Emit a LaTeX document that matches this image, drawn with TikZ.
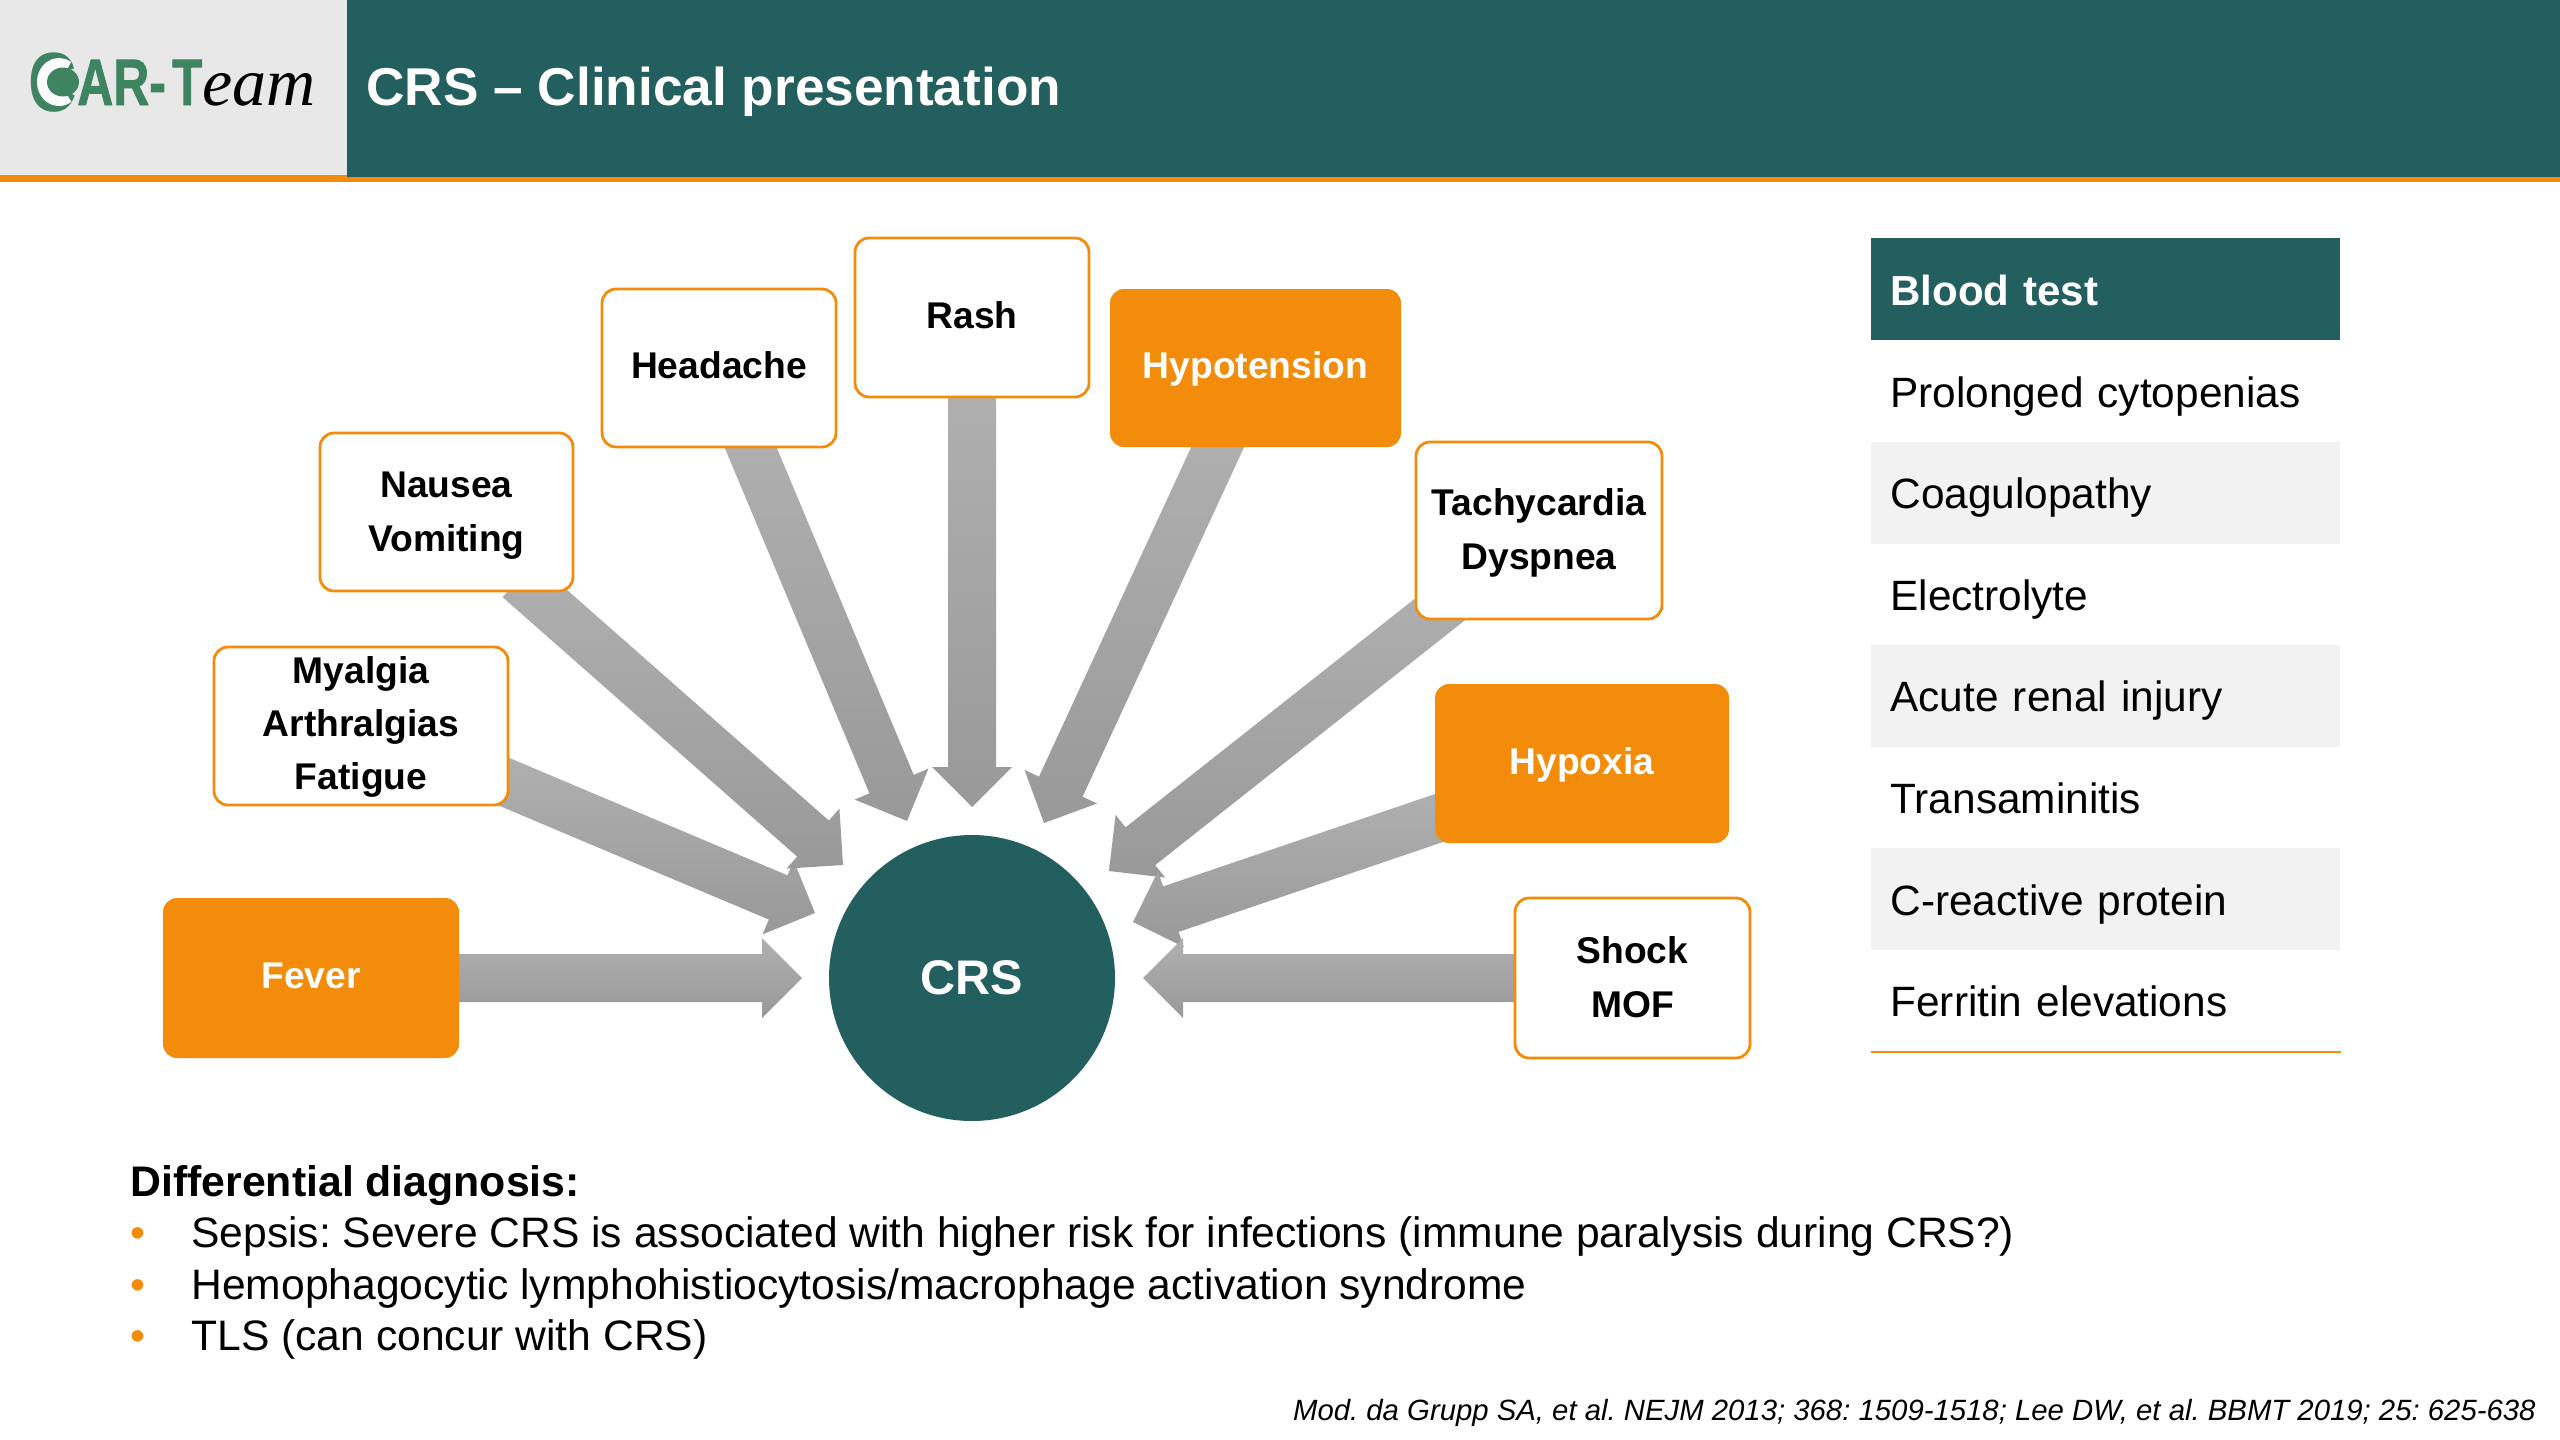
\documentclass[tikz,border=0pt]{standalone}
\usepackage{fontspec}
\setmainfont{Liberation Sans}
\newfontfamily\logoserif{Liberation Serif}
\newfontfamily\logosans[FakeBold=1.5]{Liberation Sans Bold}
\usetikzlibrary{calc,backgrounds}
\definecolor{teal1}{HTML}{245F60}
\definecolor{orange1}{HTML}{F28C0A}
\definecolor{logogreen}{HTML}{3F8460}
\newcommand\rowtxt[1]{\raisebox{-2.7pt}[0pt][0pt]{#1}\strut}
\newcommand\topstrut{\rule{0pt}{20.5pt}}
\tikzset{
  x=0.5pt,y=-0.5pt,
  solidbox/.style={draw=none,fill=orange1,rounded corners=7pt,text=white,font=\fontsize{18.6}{27}\bfseries\selectfont,align=center,inner sep=0pt},
  linebox/.style={draw=orange1,line width=1.4pt,fill=white,rounded corners=7pt,text=black,font=\fontsize{18.6}{27}\bfseries\selectfont,align=center,inner sep=0pt},
  fatarrowstyle/.style={top color=black!31,bottom color=black!40,draw=none},
  rowbox/.style={anchor=north west,minimum width=234.5pt,minimum height=50.8pt,text width=215.5pt,inner xsep=9.5pt,inner ysep=0pt,align=left,font=\fontsize{21.2}{26}\selectfont},
  bodytext/.style={anchor=base west,inner sep=0pt,font=\fontsize{21.3}{26}\selectfont},
  logotext/.style={anchor=base west,inner sep=0pt,text=logogreen,transform shape},
}
\newcommand\fatarrow[2]{%
  \coordinate (aB) at ($(#2)!20pt!(#1)$);
  \coordinate (aS) at ($(#1)!-10pt!(#2)$);
  \shade[fatarrowstyle]
    ($(aS)!12pt!90:(#2)$) -- ($(aB)!12pt!-90:(#1)$) -- ($(aB)!20pt!90:(#2)$)
    -- (#2) -- ($(aB)!20pt!-90:(#2)$) -- ($(aB)!12pt!90:(#1)$)
    -- ($(aS)!12pt!-90:(#2)$) -- cycle;
}
\begin{document}
\frenchspacing
\begin{tikzpicture}
\useasboundingbox (0,0) rectangle (2560,1440);
% header
\fill[teal1] (0,0) rectangle (2560,178);
\fill[black!9] (0,0) rectangle (347,175);
\fill[orange1] (0,175) rectangle (347,182);
\fill[orange1] (347,177) rectangle (2560,182);
\node[anchor=base west,inner sep=0pt,text=white,font=\fontsize{26.6}{32}\bfseries\selectfont] (title) at (366,105) {CRS – Clinical presentation};
% logo
\node[logotext,xscale=.8,font=\fontsize{42}{46}\bfseries\selectfont] (logoc) at (28,111) {C};
\draw[white,line width=5.5pt] ($(59,82)+(55:16.5 and 18.5)$) arc[start angle=55,end angle=305,x radius=16.5,y radius=18.5];
\fill[logogreen] (63,82) ellipse[x radius=16,y radius=14.5];
\node[logotext,xscale=.76,font=\logosans\fontsize{32.8}{36}\selectfont] (logoa) at (77,105) {AR-};
\node[logotext,xscale=.75,font=\logosans\fontsize{32.8}{36}\selectfont] (logot) at (172,105) {T};
\node[logotext,text=black,font=\logoserif\fontsize{34}{36}\itshape\selectfont] (logoe) at (202,105) {eam};
% nodes
\node[solidbox,minimum width=148pt,minimum height=80pt] (fever) at (311,978) {\strut Fever};
\node[linebox,minimum width=147pt,minimum height=79pt,font=\fontsize{18.6}{26.5}\bfseries\selectfont] (myalgia) at (361,726) {\rule{0pt}{17.5pt}Myalgia\\Arthralgias\\\rule[-7.5pt]{0pt}{7.5pt}Fatigue};
\node[linebox,minimum width=126.5pt,minimum height=79pt] (nausea) at (446.5,512) {\topstrut Nausea\\\strut Vomiting};
\node[linebox,minimum width=117pt,minimum height=79pt] (headache) at (719,368) {\strut Headache};
\node[linebox,minimum width=117pt,minimum height=79.5pt] (rash) at (972,317.5) {\strut Rash};
\node[solidbox,minimum width=145.5pt,minimum height=79pt] (hypotension) at (1255.5,368) {\strut Hypotension};
\node[linebox,minimum width=123pt,minimum height=88.5pt] (tachy) at (1539,530.5) {\topstrut Tachycardia\\\strut Dyspnea};
\node[solidbox,minimum width=147pt,minimum height=79.5pt] (hypoxia) at (1582,763.5) {\strut Hypoxia};
\node[linebox,minimum width=117.5pt,minimum height=80pt] (shock) at (1632.5,978) {\topstrut Shock\\\strut MOF};
\node[circle,fill=teal1,text=white,minimum size=143pt,inner sep=0pt,font=\fontsize{24.3}{28}\bfseries\selectfont] (crs) at (972,978) {CRS};
% arrows
\begin{pgfonlayer}{background}
\fill[white] (0,0) rectangle (2560,1440);
\coordinate (sfever) at (fever.east);
\coordinate (tfever) at ($(crs.center)+(-170,0)$);
\coordinate (smyal) at ($(myalgia.east)+(0,58)$);
\coordinate (tmyal) at ($(crs.center)+(-157,-65)$);
\coordinate (snaus) at ($(nausea.south)+(87,0)$);
\coordinate (tnaus) at ($(crs.center)+(-129,-113)$);
\coordinate (shead) at ($(headache.south)+(32,0)$);
\coordinate (thead) at ($(crs.center)+(-65,-157)$);
\coordinate (srash) at (rash.south);
\coordinate (trash) at ($(crs.center)+(0,-171)$);
\coordinate (shypo) at ($(hypotension.south)+(-38,0)$);
\coordinate (thypo) at ($(crs.center)+(72,-155)$);
\coordinate (stach) at ($(tachy.west)+(29,76)$);
\coordinate (ttach) at ($(crs.center)+(137,-107)$);
\coordinate (shpx) at ($(hypoxia.west)+(0,56)$);
\coordinate (thpx) at ($(crs.center)+(161,-56)$);
\coordinate (sshock) at (shock.west);
\coordinate (tshock) at ($(crs.center)+(171,0)$);
\fatarrow{sfever}{tfever}
\fatarrow{smyal}{tmyal}
\fatarrow{snaus}{tnaus}
\fatarrow{shead}{thead}
\fatarrow{srash}{trash}
\fatarrow{shypo}{thypo}
\fatarrow{stach}{ttach}
\fatarrow{shpx}{thpx}
\fatarrow{sshock}{tshock}
\end{pgfonlayer}
% table
\node[rowbox,fill=teal1,text=white,minimum height=51pt,font=\fontsize{21}{26}\bfseries\selectfont] (r0) at (1871,238) {\rowtxt{Blood test}};
\node[rowbox] (r1) at (1871,340) {\rowtxt{Prolonged cytopenias}};
\node[rowbox,fill=black!5] (r2) at (1871,441.6) {\rowtxt{Coagulopathy}};
\node[rowbox] (r3) at (1871,543.2) {\rowtxt{Electrolyte}};
\node[rowbox,fill=black!5] (r4) at (1871,644.8) {\rowtxt{Acute renal injury}};
\node[rowbox] (r5) at (1871,746.4) {\rowtxt{Transaminitis}};
\node[rowbox,fill=black!5] (r6) at (1871,848) {\rowtxt{C-reactive protein}};
\node[rowbox] (r7) at (1871,949.6) {\rowtxt{Ferritin elevations}};
\draw[orange1,line width=1.3pt] (r7.south west) -- (r7.south east);
% text
\node[bodytext,font=\fontsize{21.4}{26}\bfseries\selectfont] (dd) at (130,1196) {Differential diagnosis:};
\node[bodytext,text=orange1] (b1) at (130,1247) {•};
\node[bodytext,text=orange1] (b2) at (130,1299) {•};
\node[bodytext,text=orange1] (b3) at (130,1350) {•};
\node[bodytext] (t1) at (191,1247) {Sepsis: Severe CRS is associated with higher risk for infections (immune paralysis during CRS?)};
\node[bodytext] (t2) at (191,1299) {Hemophagocytic lymphohistiocytosis/macrophage activation syndrome};
\node[bodytext] (t3) at (191,1350) {TLS (can concur with CRS)};
\node[anchor=base east,inner sep=0pt,font=\fontsize{14.66}{17}\itshape\selectfont] (cite) at (2536,1420) {Mod. da Grupp SA, et al. NEJM 2013; 368: 1509-1518; Lee DW, et al. BBMT 2019; 25: 625-638};
\end{tikzpicture}
\end{document}
